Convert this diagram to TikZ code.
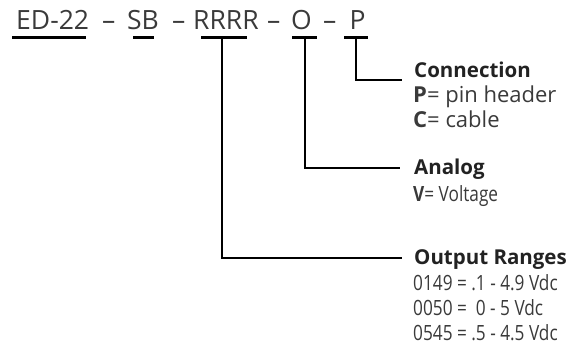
\documentclass[tikz,border=0pt]{standalone}
\usepackage{fontspec}
\setmainfont{Open Sans}
\newfontfamily\condfont[FakeStretch=0.82]{Open Sans}
\definecolor{txt}{HTML}{3A3A3A}
\definecolor{hd}{HTML}{222222}
\begin{document}
\begin{tikzpicture}[x=1pt,y=-1pt,
  pn/.style={anchor=base west, inner sep=0, font=\fontsize{26.5}{30}\selectfont, text=txt},
  uline/.style={line width=3pt, draw=black},
  conn/.style={line width=2.8pt, draw=black},
  head/.style={anchor=base west, inner sep=0, font=\bfseries\fontsize{20.5}{25}\selectfont, text=hd},
  val/.style={anchor=base west, inner sep=0, font=\fontsize{22}{25}\selectfont, text=txt},
  cval/.style={anchor=base west, inner sep=0, font=\condfont\fontsize{21}{25}\selectfont, text=txt}]
\useasboundingbox (0,0) rectangle (566,347);
% part number
\node[pn] (ed) at (16,30) {ED-22};
\node[pn] (d1) at (102,30) {\textendash};
\node[pn] (sb) at (127,30) {SB};
\node[pn] (d2) at (172,30) {\textendash};
\node[pn] (rr) at (193,30) {RRRR};
\node[pn] (d3) at (267,30) {\textendash};
\node[pn] (oo) at (291,30) {O};
\node[pn] (d4) at (323,30) {\textendash};
\node[pn] (pp) at (349.5,30) {P};
% underlines
\coordinate (uEa) at (12,37.5);  \coordinate (uEb) at (86,37.5);
\coordinate (uSa) at (133,37.5); \coordinate (uSb) at (154,37.5);
\coordinate (uRa) at (201,37.5); \coordinate (uRb) at (247,37.5);
\coordinate (uOa) at (292,37.5); \coordinate (uOb) at (317,37.5);
\coordinate (uPa) at (344,37.5); \coordinate (uPb) at (368,37.5);
\draw[uline] (uEa) -- (uEb);
\draw[uline] (uSa) -- (uSb);
\draw[uline] (uRa) -- (uRb);
\draw[uline] (uOa) -- (uOb);
\draw[uline] (uPa) -- (uPb);
% connectors
\coordinate (tR) at (222,37.5); \coordinate (eR) at (402,258);
\coordinate (tO) at (305,37.5); \coordinate (eO) at (400,168);
\coordinate (tP) at (356,37.5); \coordinate (eP) at (402,80);
\draw[conn] (tP) |- (eP);
\draw[conn] (tO) |- (eO);
\draw[conn] (tR) |- (eR);
% labels
\node[head] (hC) at (414,78) {Connection};
\node[val] (vP) at (413,103) {\textbf{P}= pin header};
\node[val] (vC) at (413,128) {\textbf{C}= cable};
\node[head] (hA) at (414,175) {Analog};
\node[cval] (vV) at (413,202) {\textbf{V}= Voltage};
\node[head] (hO) at (414,265) {Output Ranges};
\node[cval] (r1) at (413,291) {0149 = .1 - 4.9 Vdc};
\node[cval] (r2) at (413,316) {0050 =\ \ 0 - 5 Vdc};
\node[cval] (r3) at (413,341) {0545 = .5 - 4.5 Vdc};
\end{tikzpicture}
\end{document}
